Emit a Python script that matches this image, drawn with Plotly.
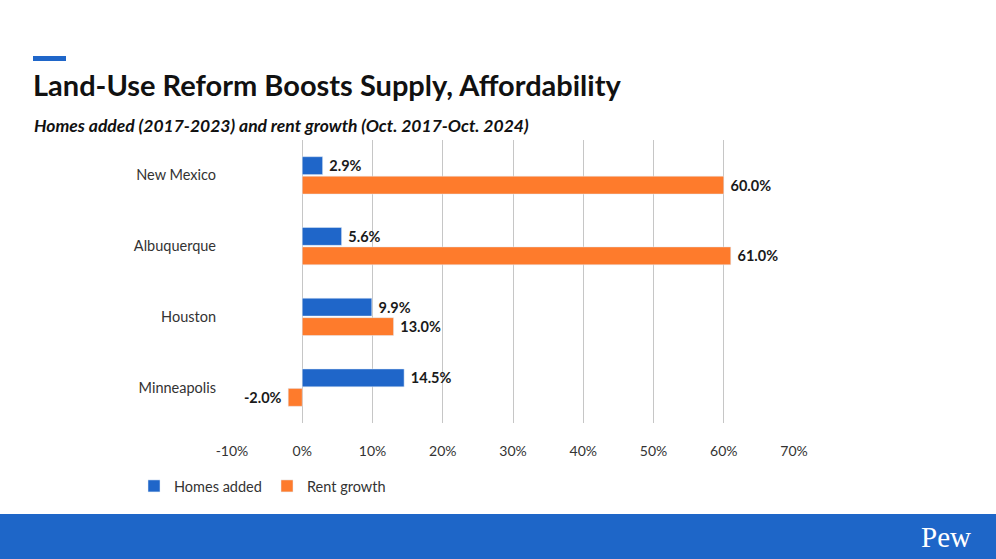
import plotly.graph_objects as go

categories = ["New Mexico", "Albuquerque", "Houston", "Minneapolis"]
homes_added = [2.9, 5.6, 9.9, 14.5]
rent_growth = [60.0, 61.0, 13.0, -2.0]
x_ticks = [-10, 0, 10, 20, 30, 40, 50, 60, 70]
x_tick_labels = [f"{v}%" for v in x_ticks]

BLUE = "#1f66c9"
ORANGE = "#fe7b2c"
W, H = 996, 559
L, R, T, B = 232, 202, 140, 136
PW, PH = W - L - R, H - T - B


def px(x):
    return (x - L) / PW


def py(y):
    return (H - B - y) / PH


def templates(vals):
    return [" <b>%{x:.1f}%</b>" if v >= 0 else "<b>%{x:.1f}%</b> " for v in vals]


label_font = dict(family="Lato", size=14.5, color="#1a1a1a")

fig = go.Figure()
fig.add_trace(go.Bar(
    y=categories, x=homes_added, orientation="h", name="Homes added",
    marker=dict(color=BLUE), texttemplate=templates(homes_added), textposition="outside",
    textfont=label_font, cliponaxis=False,
))
fig.add_trace(go.Bar(
    y=categories, x=rent_growth, orientation="h", name="Rent growth",
    marker=dict(color=ORANGE), texttemplate=templates(rent_growth), textposition="outside",
    textfont=label_font, cliponaxis=False,
))

fig.update_layout(
    width=W, height=H,
    margin=dict(l=L, r=R, t=T, b=B),
    paper_bgcolor="white", plot_bgcolor="white",
    barmode="group", bargap=0.45, bargroupgap=0.08,
    font=dict(family="Lato", size=14, color="#333333"),
    showlegend=True,
    legend=dict(orientation="h", x=px(134), y=py(486), xanchor="left", yanchor="middle",
                font=dict(family="Lato", size=14.5, color="#333333"), itemwidth=30,
                tracegroupgap=0, entrywidthmode="pixels", entrywidth=88),
    xaxis=dict(range=[-10, 70], tickvals=x_ticks, ticktext=x_tick_labels,
               showgrid=True, gridcolor="#c6c6c6", gridwidth=1,
               zeroline=True, zerolinecolor="#c6c6c6", zerolinewidth=1,
               showline=False, ticks="", ticklabelstandoff=18,
               tickfont=dict(family="Lato", size=14, color="#333333"), fixedrange=True),
    yaxis=dict(autorange="reversed", showgrid=False, ticks="", ticklabelstandoff=15,
               tickfont=dict(family="Lato", size=14.5, color="#333333"), fixedrange=True),
)

# decorative header dash and footer band
fig.add_shape(type="rect", xref="paper", yref="paper", x0=px(33), x1=px(66), y0=py(61), y1=py(56),
              fillcolor=BLUE, line=dict(width=0), layer="above")
fig.add_shape(type="rect", xref="paper", yref="paper", x0=px(0), x1=px(W), y0=py(H), y1=py(514),
              fillcolor="#1e66c8", line=dict(width=0), layer="above")

fig.add_annotation(text="<b>Land-Use Reform Boosts Supply, Affordability</b>", xref="paper", yref="paper",
                   x=px(31), y=py(85), xanchor="left", yanchor="middle", showarrow=False,
                   font=dict(family="Lato", size=29, color="#111111"))
fig.add_annotation(text="<b><i>Homes added (2017-2023) and rent growth (Oct. 2017-Oct. 2024)</i></b>",
                   xref="paper", yref="paper", x=px(32), y=py(125), xanchor="left", yanchor="middle",
                   showarrow=False, font=dict(family="Lato", size=17.5, color="#111111"))
fig.add_annotation(text="Pew", xref="paper", yref="paper", x=px(973), y=py(537), xanchor="right",
                   yanchor="middle", showarrow=False,
                   font=dict(family="Liberation Serif", size=29, color="white"))

fig.write_html("out.html")
